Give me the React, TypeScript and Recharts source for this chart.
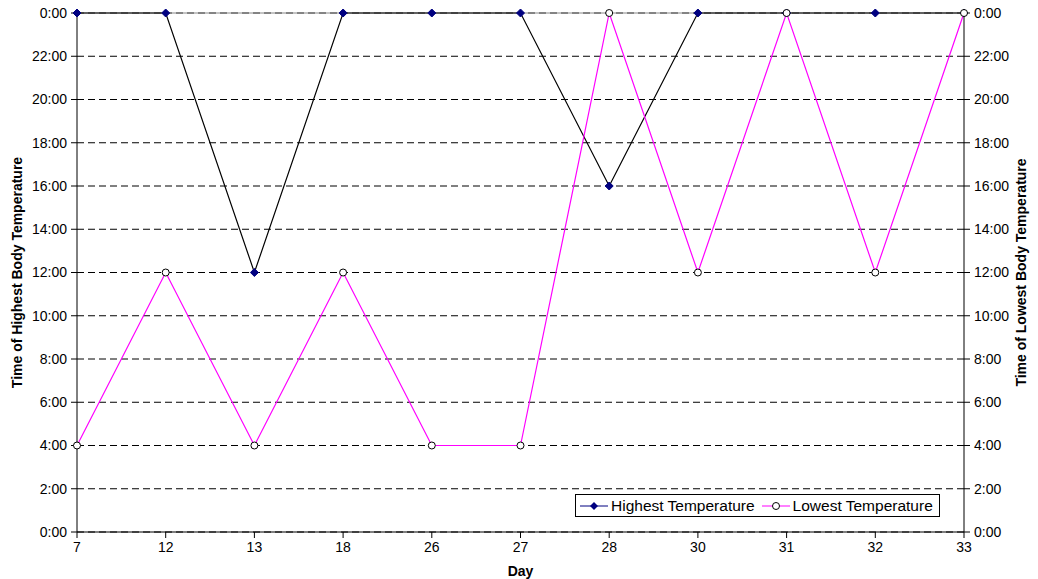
import React from "react";
import { LineChart, Line, XAxis, YAxis, CartesianGrid, ReferenceLine } from "recharts";

const days = ["7", "12", "13", "18", "26", "27", "28", "30", "31", "32", "33"];
const highest = [24, 24, 12, 24, 24, 24, 16, 24, 24, 24, 24];
const lowest = [4, 12, 4, 12, 4, 4, 24, 12, 24, 12, 24];
const hourTicks = [0, 2, 4, 6, 8, 10, 12, 14, 16, 18, 20, 22, 24];

const data = days.map((d, i) => ({ day: d, high: highest[i], low: lowest[i] }));

const font = "'Liberation Sans', Arial, sans-serif";
const fmt = (v: number) => `${v % 24}:00`;
const tickStyle = { fill: "#000", fontSize: 14, fontFamily: font };
const labelStyle = { fontWeight: "bold", fontSize: 14, fontFamily: font, fill: "#000" };

function Diamond(props: any) {
  const { cx, cy, index } = props;
  if (cx == null || cy == null) return null;
  return <path key={`d${index}`} d={`M${cx},${cy - 4}L${cx + 4},${cy}L${cx},${cy + 4}L${cx - 4},${cy}Z`} fill="#000080" stroke="#000080" />;
}

function Circle(props: any) {
  const { cx, cy, index } = props;
  if (cx == null || cy == null) return null;
  return <circle key={`c${index}`} cx={cx} cy={cy} r={3.5} fill="#fff" stroke="#000" strokeWidth={1} />;
}

function LegendBox() {
  return (
    <div style={{ position: "absolute", left: 575, top: 494, height: 23, boxSizing: "border-box", border: "1px solid #000", background: "#fff", display: "flex", alignItems: "center", padding: "0 6px 0 4px", fontFamily: font, fontSize: 15.5, color: "#000", gap: 3 }}>
      <svg width={28} height={10}>
        <line x1={0} y1={5} x2={28} y2={5} stroke="#000080" />
        <path d="M14,1L18,5L14,9L10,5Z" fill="#000080" />
      </svg>
      <span>Highest Temperature</span>
      <svg width={28} height={10} style={{ marginLeft: 4 }}>
        <line x1={0} y1={5} x2={28} y2={5} stroke="#ff00ff" />
        <circle cx={14} cy={5} r={3.5} fill="#fff" stroke="#000" />
      </svg>
      <span>Lowest Temperature</span>
    </div>
  );
}

export default function App() {
  return (
    <div style={{ position: "absolute", left: 0, top: 0, width: 1038, height: 579, background: "#fff" }}>
      <LineChart width={1038} height={579} data={data} margin={{ top: 13, right: 0, bottom: 0, left: 0 }}>
        <CartesianGrid vertical={false} stroke="#000" strokeDasharray="7 4" yAxisId="left" />
        <ReferenceLine yAxisId="left" y={24} stroke="#888" />
        <XAxis
          dataKey="day"
          stroke="#000"
          tick={tickStyle}
          tickSize={6}
          tickMargin={4}
          interval={0}
          label={{ value: "Day", position: "insideBottom", offset: 3, style: labelStyle }}
          height={47}
        />
        <YAxis
          yAxisId="left"
          domain={[0, 24]}
          ticks={hourTicks}
          tickFormatter={fmt}
          width={77}
          stroke="#000"
          tickSize={6}
          tickMargin={4}
          tick={tickStyle}
          label={{ value: "Time of Highest Body Temperature", angle: -90, position: "insideLeft", dx: 12, style: { ...labelStyle, textAnchor: "middle" } }}
        />
        <YAxis
          yAxisId="right"
          orientation="right"
          domain={[0, 24]}
          ticks={hourTicks}
          tickFormatter={fmt}
          width={74}
          stroke="#000"
          tickSize={6}
          tickMargin={4}
          tick={tickStyle}
          label={{ value: "Time of Lowest Body Temperature", angle: -90, position: "insideRight", dx: -12, style: { ...labelStyle, textAnchor: "middle" } }}
        />
        <Line yAxisId="left" dataKey="high" type="linear" stroke="#000" strokeWidth={1.2} dot={<Diamond />} activeDot={false} isAnimationActive={false} />
        <Line yAxisId="right" dataKey="low" type="linear" stroke="#ff00ff" strokeWidth={1.2} dot={<Circle />} activeDot={false} isAnimationActive={false} />
      </LineChart>
      <LegendBox />
    </div>
  );
}
